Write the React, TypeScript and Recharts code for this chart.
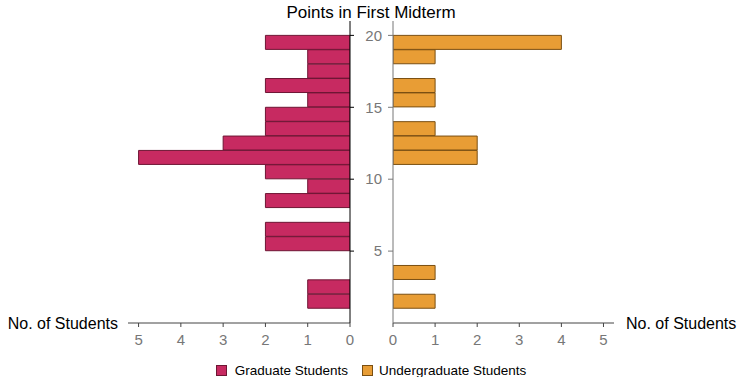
import { BarChart, Bar, XAxis, YAxis } from "recharts";

// bins named by their upper edge (bin k covers k-1..k), top to bottom
const bins = ["21", "20", "19", "18", "17", "16", "15", "14", "13", "12", "11", "10", "9", "8", "7", "6", "5", "4", "3", "2", "1"];
const graduate = [0, 2, 1, 1, 2, 1, 2, 2, 3, 5, 2, 1, 2, 0, 2, 2, 0, 0, 1, 1, 0];
const undergraduate = [0, 4, 1, 0, 1, 1, 0, 1, 2, 2, 0, 0, 0, 0, 0, 0, 0, 1, 0, 1, 0];
const pointTicks = ["5", "10", "15", "20"];
const countTicks = [0, 1, 2, 3, 4, 5];

const data = bins.map((bin, i) => ({ bin, grad: graduate[i], under: undergraduate[i] }));

const FONT = '"Liberation Sans", Arial, sans-serif';
const GRAD = "#c72a61";
const GRAD_EDGE = "#6e1634";
const UNDER = "#e89d35";
const UNDER_EDGE = "#7a4f12";
const TICK = { fill: "#777", fontSize: 15, fontFamily: FONT };

// tick sits on the upper edge of its bin
const BinTick = ({ x, y, payload, side }: any) => {
  if (!pointTicks.includes(String(payload.value))) return <g />;
  const ty = y - (payload.offset || 7.2);
  if (side === "right") {
    return <line x1={x} x2={x + 4} y1={ty} y2={ty} stroke="#000" />;
  }
  return (
    <g>
      <line x1={x - 5} x2={x} y1={ty} y2={ty} stroke="#777" />
      <text x={x - 11} y={ty} dy="0.35em" textAnchor="end" fill="#777" fontSize={15} fontFamily={FONT}>
        {payload.value}
      </text>
    </g>
  );
};

const AxisTitle = ({ viewBox, side }: any) => {
  const x = side === "left" ? viewBox.x - 10 : viewBox.x + viewBox.width + 12;
  return (
    <text x={x} y={viewBox.y} dy="0.35em" textAnchor={side === "left" ? "end" : "start"} fill="#000" fontSize={16} fontFamily={FONT}>
      No. of Students
    </text>
  );
};

const App = () => {
  return (
    <div style={{ position: "absolute", left: 0, top: 0, width: 740, height: 377, background: "#fff", fontFamily: FONT }}>
      <div style={{ position: "absolute", left: 0, width: 742, top: 3, textAlign: "center", fontSize: 17, color: "#000" }}>
        Points in First Midterm
      </div>

      <div style={{ position: "absolute", left: 0, top: 0 }}>
        <BarChart width={360} height={377} data={data} layout="vertical" barCategoryGap={0}
          margin={{ top: 21, right: 0, bottom: 24, left: 128 }}>
          <XAxis type="number" domain={[0, 5.25]} ticks={countTicks} reversed allowDataOverflow
            height={30} tickSize={4} tickMargin={7} tick={TICK}
            axisLine={{ stroke: "#444" }} tickLine={{ stroke: "#444" }}
            label={<AxisTitle side="left" />} />
          <YAxis type="category" dataKey="bin" orientation="right" width={10} interval={0}
            tickSize={0} tickMargin={0} tickLine={false} axisLine={{ stroke: "#000" }}
            tick={<BinTick side="right" />} />
          <Bar dataKey="grad" fill={GRAD} stroke={GRAD_EDGE} strokeWidth={1} isAnimationActive={false} />
        </BarChart>
      </div>

      <div style={{ position: "absolute", left: 340, top: 0 }}>
        <BarChart width={400} height={377} data={data} layout="vertical" barCategoryGap={0}
          margin={{ top: 21, right: 126, bottom: 24, left: 0 }}>
          <XAxis type="number" domain={[0, 5.25]} ticks={countTicks} allowDataOverflow
            height={30} tickSize={4} tickMargin={7} tick={TICK}
            axisLine={{ stroke: "#444" }} tickLine={{ stroke: "#444" }}
            label={<AxisTitle side="right" />} />
          <YAxis type="category" dataKey="bin" orientation="left" width={53} interval={0}
            tickSize={0} tickMargin={0} tickLine={false} axisLine={{ stroke: "#777" }}
            tick={<BinTick side="left" />} />
          <Bar dataKey="under" fill={UNDER} stroke={UNDER_EDGE} strokeWidth={1} isAnimationActive={false} />
        </BarChart>
      </div>

      <div style={{ position: "absolute", left: 0, width: 742, top: 363, display: "flex", justifyContent: "center", fontSize: 13.5, lineHeight: "15px", color: "#000" }}>
        <span style={{ display: "inline-flex", alignItems: "center", marginRight: 14 }}>
          <span style={{ width: 9, height: 9, background: GRAD, border: `1px solid ${GRAD_EDGE}`, marginRight: 8 }} />
          Graduate Students
        </span>
        <span style={{ display: "inline-flex", alignItems: "center" }}>
          <span style={{ width: 9, height: 9, background: UNDER, border: `1px solid ${UNDER_EDGE}`, marginRight: 6 }} />
          Undergraduate Students
        </span>
      </div>
    </div>
  );
};

export default App;
